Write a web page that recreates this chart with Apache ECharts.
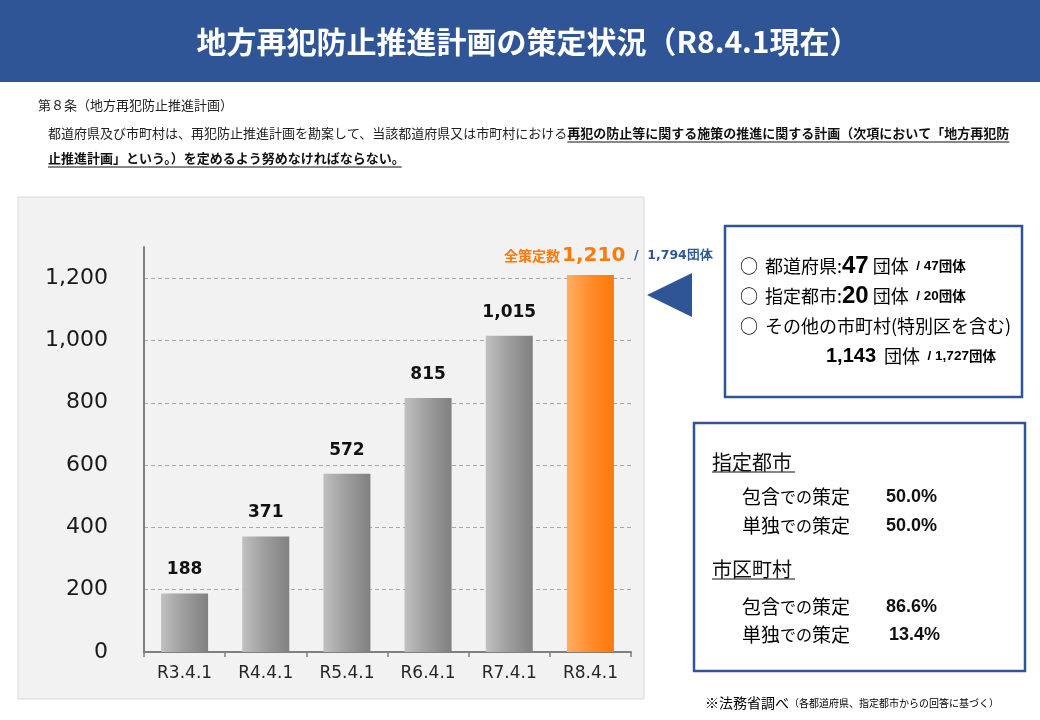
<!DOCTYPE html>
<html>
<head>
<meta charset="utf-8">
<script src="https://cdn.jsdelivr.net/npm/echarts@6/dist/echarts.min.js"></script>
<style>
html,body{margin:0;padding:0;background:#fff;}
#c{width:1040px;height:720px;}
</style>
</head>
<body>
<div id="c"></div>
<script>
// ---- data ----
const categories = ['R3.4.1', 'R4.4.1', 'R5.4.1', 'R6.4.1', 'R7.4.1', 'R8.4.1'];
const planCounts = [188, 371, 572, 815, 1015, 1210];
const totalBodies = 1794;
const yMax = 1300;
const yInterval = 200;

const titleText = '地方再犯防止推進計画の策定状況（R8.4.1現在）';
const articleHead = '第８条（地方再犯防止推進計画）';
const articlePlain = '都道府県及び市町村は、再犯防止推進計画を勘案して、当該都道府県又は市町村における';
const articleBold1 = '再犯の防止等に関する施策の推進に関する計画（次項において「地方再犯防';
const articleBold2 = '止推進計画」という。）を定めるよう努めなければならない';
const articleEnd = '。';

const boxRows = [
  { name: '都道府県:', count: '47', total: '47' },
  { name: '指定都市:', count: '20', total: '20' }
];
const otherName = 'その他の市町村(特別区を含む)';
const otherCount = '1,143';
const otherTotal = '1,727';

const ratioGroups = [
  { name: '指定都市', inclusive: '50.0%', standalone: '50.0%' },
  { name: '市区町村', inclusive: '86.6%', standalone: '13.4%' }
];
const footMain = '※法務省調べ';
const footSub = '（各都道府県、指定都市からの回答に基づく）';

// ---- helpers ----
const JP = '"Noto Sans CJK JP", sans-serif';
const NUM = '"Liberation Sans", Arial, sans-serif';
const VER = '"DejaVu Sans", Verdana, sans-serif';
const BLUE = '#2F5597';
const ORANGE = '#FF7A0A';
const mctx = document.createElement('canvas').getContext('2d');
function tw(text, font) { mctx.font = font; return mctx.measureText(text).width; }
const fmt = v => Number(v).toLocaleString('en-US');

const chart = echarts.init(document.getElementById('c'), null, { renderer: 'canvas' });

const grayGrad = new echarts.graphic.LinearGradient(0, 0, 1, 0, [
  { offset: 0, color: '#C0C0C0' },
  { offset: 0.45, color: '#A0A0A0' },
  { offset: 1, color: '#808080' }
]);
const orangeGrad = new echarts.graphic.LinearGradient(0, 0, 1, 0, [
  { offset: 0, color: '#FFAE62' },
  { offset: 0.5, color: '#FF8C2C' },
  { offset: 1, color: '#FF780A' }
]);

const lastIdx = planCounts.length - 1;
const barData = planCounts.map((v, i) => {
  if (i !== lastIdx) return { value: v, itemStyle: { color: grayGrad } };
  return {
    value: v,
    itemStyle: { color: orangeGrad },
    label: {
      show: true,
      position: 'top',
      distance: 9,
      offset: [18, 0],
      formatter: '{a|全策定数}{b|' + fmt(v) + '}{c|  /  ' + fmt(totalBodies) + '団体}',
      rich: {
        a: { fontFamily: JP, fontWeight: 'bold', fontSize: 14, color: ORANGE },
        b: { fontFamily: VER, fontWeight: 'bold', fontSize: 20, color: ORANGE, padding: [0, 0, 0, 2] },
        c: { fontFamily: VER, fontWeight: 'bold', fontSize: 12.5, color: BLUE }
      }
    }
  };
});

// ---- graphic elements ----
const g = [];
// background panel
g.push({ type: 'rect', z: -100, shape: { x: 18, y: 197, width: 626, height: 502 },
  style: { fill: '#F2F2F2', stroke: '#D9D9D9', lineWidth: 1 } });
// title banner
g.push({ type: 'rect', z: 10, shape: { x: 0, y: 0, width: 1040, height: 82 }, style: { fill: BLUE } });
g.push({ type: 'text', z: 11, x: 528, y: 42,
  style: { text: titleText, fill: '#fff', font: 'bold 30px ' + JP, textAlign: 'center', textVerticalAlign: 'middle' } });
// article text
const fN = '13px ' + JP, fB = 'bold 13px ' + JP;
g.push({ type: 'text', x: 38, y: 105, style: { text: articleHead, fill: '#222', font: fN, textVerticalAlign: 'middle' } });
g.push({ type: 'text', x: 48, y: 133, style: { text: articlePlain, fill: '#222', font: fN, textVerticalAlign: 'middle' } });
const w1 = tw(articlePlain, fN);
const wb1 = tw(articleBold1, fB);
g.push({ type: 'text', x: 48 + w1, y: 133, style: { text: articleBold1, fill: '#111', font: fB, textVerticalAlign: 'middle' } });
g.push({ type: 'line', shape: { x1: 48 + w1, y1: 142, x2: 48 + w1 + wb1, y2: 142 }, style: { stroke: '#111', lineWidth: 1 } });
const wb2 = tw(articleBold2, fB);
g.push({ type: 'text', x: 48, y: 158, style: { text: articleBold2 + articleEnd, fill: '#111', font: fB, textVerticalAlign: 'middle' } });
g.push({ type: 'line', shape: { x1: 48, y1: 167, x2: 48 + wb2 + 10, y2: 167 }, style: { stroke: '#111', lineWidth: 1 } });

// arrow
g.push({ type: 'polygon', shape: { points: [[647, 295], [692, 273], [692, 317]] }, style: { fill: BLUE } });

// box 1
g.push({ type: 'rect', shape: { x: 725, y: 226, width: 297, height: 171 }, style: { fill: '#fff', stroke: BLUE, lineWidth: 2.5 } });
const richBox = {
  c: { fontFamily: JP, fontSize: 18, color: '#111', padding: [0, 7, 0, 0] },
  t: { fontFamily: JP, fontSize: 18, color: '#111' },
  n: { fontFamily: NUM, fontWeight: 'bold', fontSize: 24, color: '#111' },
  n2: { fontFamily: NUM, fontWeight: 'bold', fontSize: 20, color: '#111' },
  s: { fontFamily: NUM, fontWeight: 'bold', fontSize: 13.5, color: '#111' },
  sj: { fontFamily: JP, fontWeight: 'bold', fontSize: 13.5, color: '#111' }
};
const rowY = [266, 296, 326, 356];
boxRows.forEach((r, i) => {
  g.push({ type: 'text', x: 740, y: rowY[i], style: {
    text: '{c|○}{t|' + r.name + '}{n|' + r.count + '}{t| 団体}{s|  / ' + r.total + '}{sj|団体}',
    rich: richBox, textVerticalAlign: 'middle' } });
});
g.push({ type: 'text', x: 740, y: rowY[2], style: { text: '{c|○}{t|' + otherName + '}', rich: richBox, textVerticalAlign: 'middle' } });
g.push({ type: 'text', x: 826, y: rowY[3], style: {
  text: '{n2|' + otherCount + '}{t|  団体}{s|  / ' + otherTotal + '}{sj|団体}', rich: richBox, textVerticalAlign: 'middle' } });

// box 2
g.push({ type: 'rect', shape: { x: 694, y: 423, width: 331, height: 248 }, style: { fill: '#fff', stroke: BLUE, lineWidth: 2.5 } });
const richRatio = {
  k: { fontFamily: JP, fontSize: 19, color: '#111' },
  h: { fontFamily: JP, fontSize: 16, color: '#111' }
};
const groupY = [[462, 497, 526], [569, 607, 635]];
const pctX = [[886, 886], [886, 889]];
ratioGroups.forEach((grp, i) => {
  const [hy, y1, y2] = groupY[i];
  g.push({ type: 'text', x: 712, y: hy, style: { text: grp.name, font: '20px ' + JP, fill: '#111', textVerticalAlign: 'middle' } });
  g.push({ type: 'line', shape: { x1: 712, y1: hy + 10, x2: 795, y2: hy + 10 }, style: { stroke: '#111', lineWidth: 1.2 } });
  g.push({ type: 'text', x: 742, y: y1, style: { text: '{k|包含}{h|での}{k|策定}', rich: richRatio, textVerticalAlign: 'middle' } });
  g.push({ type: 'text', x: 742, y: y2, style: { text: '{k|単独}{h|での}{k|策定}', rich: richRatio, textVerticalAlign: 'middle' } });
  g.push({ type: 'text', x: pctX[i][0], y: y1, style: { text: grp.inclusive, font: 'bold 18px ' + NUM, fill: '#111', textVerticalAlign: 'middle' } });
  g.push({ type: 'text', x: pctX[i][1], y: y2, style: { text: grp.standalone, font: 'bold 18px ' + NUM, fill: '#111', textVerticalAlign: 'middle' } });
});

// footnote
g.push({ type: 'text', x: 705, y: 703, style: {
  text: '{a|' + footMain + '}{b|' + footSub + '}',
  rich: { a: { fontFamily: JP, fontSize: 14, color: '#333' }, b: { fontFamily: JP, fontSize: 10, color: '#333' } },
  textVerticalAlign: 'middle' } });

const option = {
  backgroundColor: '#ffffff',
  animation: false,
  grid: { left: 144, right: 409, top: 247, bottom: 68, containLabel: false },
  xAxis: {
    type: 'category',
    data: categories,
    axisLine: { lineStyle: { color: '#7F7F7F', width: 2 } },
    axisTick: { show: true, length: 5, lineStyle: { color: '#7F7F7F', width: 1.5 } },
    axisLabel: { fontFamily: VER, fontSize: 17, color: '#262626', margin: 13 }
  },
  yAxis: {
    type: 'value',
    min: 0,
    max: yMax,
    interval: yInterval,
    axisLine: { show: true, lineStyle: { color: '#7F7F7F', width: 2 } },
    axisTick: { show: false },
    axisLabel: {
      fontFamily: VER, fontSize: 22, color: '#1a1a1a', margin: 36,
      showMaxLabel: false,
      formatter: v => (v > 1200 ? '' : fmt(v))
    },
    splitLine: { show: true, showMinLine: false, showMaxLine: false, lineStyle: { color: '#A6A6A6', type: [4, 3], width: 1 } }
  },
  series: [{
    type: 'bar',
    data: barData,
    barWidth: 47,
    label: {
      show: true,
      position: 'top',
      distance: 15,
      fontFamily: VER,
      fontWeight: 'bold',
      fontSize: 17,
      color: '#111',
      formatter: p => (p.dataIndex === lastIdx ? '' : fmt(p.value))
    }
  }],
  graphic: { elements: g }
};
chart.setOption(option);
</script>
</body>
</html>
